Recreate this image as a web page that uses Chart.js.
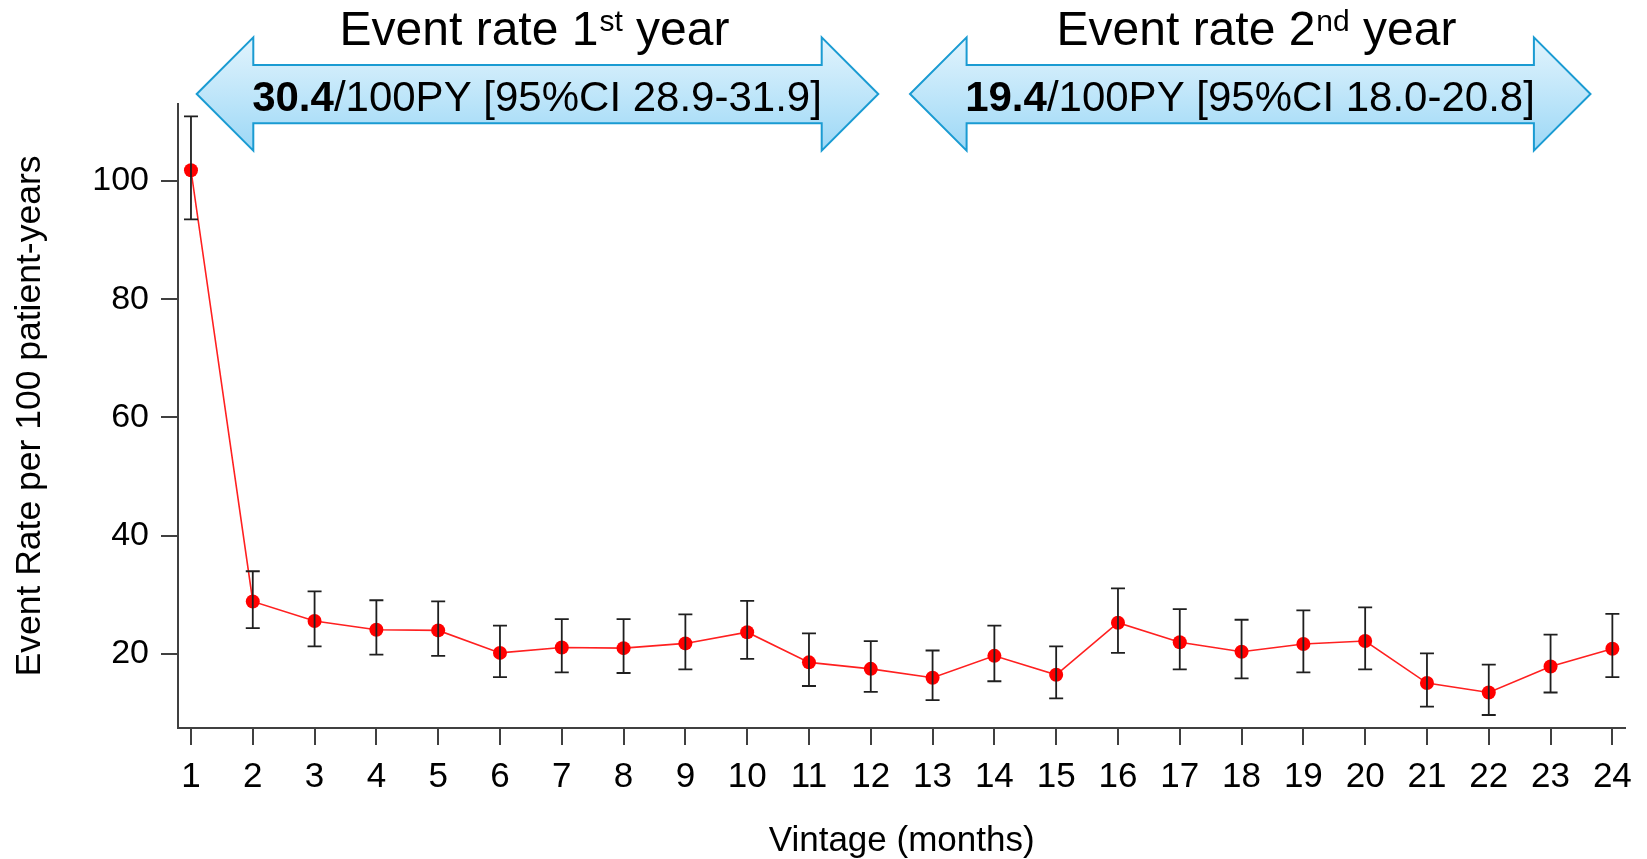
<!DOCTYPE html>
<html>
<head>
<meta charset="utf-8">
<script src="https://cdn.jsdelivr.net/npm/chart.js@4.4.1/dist/chart.umd.min.js"></script>
<style>
html,body{margin:0;padding:0;background:#fff;overflow:hidden}
canvas{display:block}
</style>
</head>
<body>
<canvas id="c" width="1647" height="859"></canvas>
<script>
// ---------- data ----------
const months = [1,2,3,4,5,6,7,8,9,10,11,12,13,14,15,16,17,18,19,20,21,22,23,24];
const rate   = [101.8,28.9,25.6,24.1,24.0,20.2,21.1,21.0,21.8,23.7,18.6,17.5,16.0,19.7,16.5,25.3,22.0,20.4,21.7,22.2,15.1,13.5,17.9,20.9];
const ciUpper= [110.9,34.0,30.6,29.1,28.9,24.8,25.9,25.9,26.7,29.0,23.5,22.2,20.6,24.8,21.3,31.1,27.6,25.8,27.4,27.9,20.1,18.2,23.3,26.8];
const ciLower= [93.5,24.4,21.3,19.9,19.7,16.1,16.9,16.8,17.4,19.2,14.6,13.6,12.2,15.4,12.5,20.2,17.4,15.9,16.9,17.4,11.1,9.7,13.5,16.1];
const xTicks = months;
const yTicks = [20,40,60,80,100];
const yearTitle = ['Event rate 1','Event rate 2'];
const yearSup   = ['st','nd'];
const yearTitleEnd = [' year',' year'];
const yearRateBold = ['30.4','19.4'];
const yearRateRest = ['/100PY [95%CI 28.9-31.9]','/100PY [95%CI 18.0-20.8]'];
const xTitle = 'Vintage (months)';
const yTitle = 'Event Rate per 100 patient-years';

// ---------- layout / style ----------
const FONT = '"Liberation Sans", Arial, sans-serif';
const arrowBoxes = [
  {left:196.7, right:878.3, titleX:534, textX:537},
  {left:910, right:1590.5, titleX:1256, textX:1250}
];
const arrowGeom = {cy:94, headHalf:56.7, bodyTop:65, bodyBottom:123.3, headLen:56.6};

const errorBars = {
  id:'errorBars',
  afterDatasetsDraw(chart){
    const {ctx, scales:{x,y}} = chart;
    ctx.save();
    ctx.strokeStyle = '#1f1f1f';
    ctx.lineWidth = 1.8;
    months.forEach((m,i)=>{
      const px = x.getPixelForValue(m);
      const pt = y.getPixelForValue(ciUpper[i]);
      const pb = y.getPixelForValue(ciLower[i]);
      ctx.beginPath();
      ctx.moveTo(px,pt); ctx.lineTo(px,pb);
      ctx.moveTo(px-7,pt); ctx.lineTo(px+7,pt);
      ctx.moveTo(px-7,pb); ctx.lineTo(px+7,pb);
      ctx.stroke();
    });
    ctx.restore();
  }
};

const arrows = {
  id:'arrows',
  afterDraw(chart){
    const ctx = chart.ctx;
    const g = arrowGeom;
    ctx.save();
    arrowBoxes.forEach((b,i)=>{
      const L=b.left, R=b.right;
      ctx.beginPath();
      ctx.moveTo(L, g.cy);
      ctx.lineTo(L+g.headLen, g.cy-g.headHalf);
      ctx.lineTo(L+g.headLen, g.bodyTop);
      ctx.lineTo(R-g.headLen, g.bodyTop);
      ctx.lineTo(R-g.headLen, g.cy-g.headHalf);
      ctx.lineTo(R, g.cy);
      ctx.lineTo(R-g.headLen, g.cy+g.headHalf);
      ctx.lineTo(R-g.headLen, g.bodyBottom);
      ctx.lineTo(L+g.headLen, g.bodyBottom);
      ctx.lineTo(L+g.headLen, g.cy+g.headHalf);
      ctx.closePath();
      const grad = ctx.createLinearGradient(0, g.cy-g.headHalf, 0, g.cy+g.headHalf);
      grad.addColorStop(0,'#e2f4fd');
      grad.addColorStop(1,'#9dd8f6');
      ctx.fillStyle = grad;
      ctx.fill();
      ctx.strokeStyle = '#1a9bd2';
      ctx.lineWidth = 2;
      ctx.lineJoin = 'miter';
      ctx.stroke();

      // rate text
      ctx.fillStyle = '#000';
      ctx.textBaseline = 'alphabetic';
      ctx.textAlign = 'left';
      const fb = 'bold 42px '+FONT, fr = '42px '+FONT;
      ctx.font = fb; const wb = ctx.measureText(yearRateBold[i]).width;
      ctx.font = fr; const wr = ctx.measureText(yearRateRest[i]).width;
      let sx = b.textX - (wb+wr)/2;
      ctx.font = fb; ctx.fillText(yearRateBold[i], sx, 110.7);
      ctx.font = fr; ctx.fillText(yearRateRest[i], sx+wb, 110.7);

      // title with superscript
      const ft = '48px '+FONT, fs = '30px '+FONT;
      ctx.font = ft; const w1 = ctx.measureText(yearTitle[i]).width;
      const w3 = ctx.measureText(yearTitleEnd[i]).width;
      ctx.font = fs; const w2 = ctx.measureText(yearSup[i]).width;
      let tx = b.titleX - (w1+w2+w3)/2;
      ctx.font = ft; ctx.fillText(yearTitle[i], tx, 45);
      ctx.font = fs; ctx.fillText(yearSup[i], tx+w1+1, 31);
      ctx.font = ft; ctx.fillText(yearTitleEnd[i], tx+w1+w2+1, 45);
    });
    ctx.restore();
  }
};

new Chart(document.getElementById('c'), {
  type:'scatter',
  data:{
    datasets:[{
      data: months.map((m,i)=>({x:m, y:rate[i]})),
      showLine:true,
      borderColor:'#ff2020',
      borderWidth:1.6,
      backgroundColor:'#ff0000',
      pointBackgroundColor:'#ff0000',
      pointBorderColor:'#ff0000',
      pointBorderWidth:0,
      pointRadius:7,
      tension:0
    }]
  },
  options:{
    responsive:false,
    devicePixelRatio:1,
    animation:false,
    layout:{padding:{left:0, right:19, top:104, bottom:0}},
    plugins:{legend:{display:false}, tooltip:{enabled:false}},
    scales:{
      x:{
        type:'linear',
        min:0.79, max:24.21,
        afterBuildTicks(s){ s.ticks = xTicks.map(v=>({value:v})); },
        afterFit(s){ s.height = 131; },
        grid:{drawOnChartArea:false, drawTicks:true, tickLength:17, color:'#404040', tickColor:'#404040', lineWidth:2, tickWidth:2},
        border:{display:true, color:'#404040', width:2},
        ticks:{autoSkip:false, maxRotation:0, minRotation:0, padding:15, color:'#000',
               font:{family:FONT, size:35, lineHeight:1},
               callback:(v)=>String(v)},
        title:{display:true, text:xTitle, color:'#000', padding:{top:0,bottom:0},
               font:{family:FONT, size:35, lineHeight:1}}
      },
      y:{
        type:'linear',
        min:7.5, max:113,
        afterBuildTicks(s){ s.ticks = yTicks.map(v=>({value:v})); },
        afterFit(s){ s.width = 178; },
        grid:{drawOnChartArea:false, drawTicks:true, tickLength:17, color:'#404040', tickColor:'#404040', lineWidth:2, tickWidth:2},
        border:{display:true, color:'#404040', width:2},
        ticks:{padding:12, color:'#000', font:{family:FONT, size:34, lineHeight:1},
               callback:(v)=>String(v)},
        title:{display:true, text:yTitle, color:'#000', padding:{top:12,bottom:0},
               font:{family:FONT, size:35.5, lineHeight:1}}
      }
    }
  },
  plugins:[errorBars, arrows]
});
</script>
</body>
</html>
